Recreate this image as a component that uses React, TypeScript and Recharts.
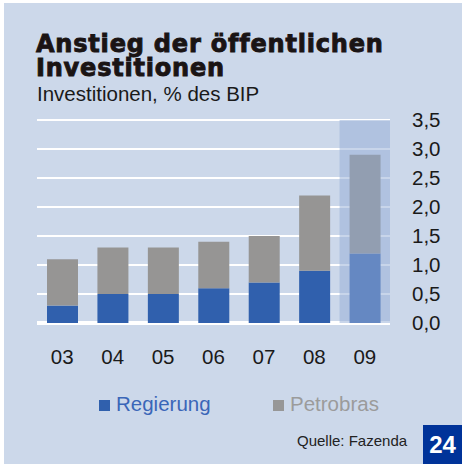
import React from "react";
import {
  Bar,
  BarChart,
  CartesianGrid,
  Cell,
  ReferenceArea,
  ReferenceLine,
  XAxis,
  YAxis,
} from "recharts";

const YEARS = ["03", "04", "05", "06", "07", "08", "09"];
const REGIERUNG = [0.3, 0.5, 0.5, 0.6, 0.7, 0.9, 1.2];
const PETROBRAS = [0.8, 0.8, 0.8, 0.8, 0.8, 1.3, 1.7];
const Y_TICKS = [0, 0.5, 1, 1.5, 2, 2.5, 3, 3.5];
const FORECAST_YEAR = "09";

const BG = "#CCD8EA";
const BLUE = "#3060AD";
const GRAY = "#969594";
const BLUE_LIGHT = "#6588C2";
const GRAY_LIGHT = "#929EB1";
const FONT = "'Liberation Sans', Arial, sans-serif";

const data = YEARS.map((year, i) => ({
  year,
  regierung: REGIERUNG[i],
  petrobras: PETROBRAS[i],
}));

export default function App() {
  return (
    <div
      style={{
        position: "absolute",
        left: 0,
        top: 0,
        width: 462,
        height: 464,
        background: "#fff",
        fontFamily: FONT,
        overflow: "hidden",
      }}
    >
      <div
        style={{
          position: "absolute",
          left: 4,
          top: 3,
          width: 458,
          height: 461,
          background: BG,
        }}
      />

      {/* Titel */}
      <div
        style={{
          position: "absolute",
          left: 36,
          top: 32,
          fontFamily: "'DejaVu Sans', sans-serif",
          fontWeight: 700,
          fontSize: 24,
          lineHeight: "24px",
          letterSpacing: 0.8,
          color: "#1a1414",
          WebkitTextStroke: "0.9px #1a1414",
          whiteSpace: "nowrap",
        }}
      >
        <div>Anstieg der öffentlichen</div>
        <div>Investitionen</div>
      </div>
      <div
        style={{
          position: "absolute",
          left: 37,
          top: 82,
          fontSize: 20.5,
          lineHeight: "24px",
          color: "#1a1a1a",
          whiteSpace: "nowrap",
        }}
      >
        Investitionen, % des BIP
      </div>

      <div style={{ position: "absolute", left: 0, top: 0 }}>
        <BarChart
          width={462}
          height={464}
          data={data}
          margin={{ top: 120, right: 12, bottom: 101, left: 37 }}
          barSize={31}
        >
          <CartesianGrid
            vertical={false}
            stroke="#fff"
            strokeWidth={2}
            horizontalValues={Y_TICKS}
          />
          <ReferenceLine y={0} stroke="#fff" strokeWidth={4} zIndex={-90} />
          <ReferenceArea
            x1={FORECAST_YEAR}
            x2={FORECAST_YEAR}
            y1={0}
            y2={3.5}
            fill="#96AFD7"
            fillOpacity={0.52}
            stroke="none"
            zIndex={-80}
          />
          <XAxis
            dataKey="year"
            axisLine={false}
            tickLine={false}
            tickSize={0}
            tickMargin={26}
            height={40}
            interval={0}
            tick={{ fontSize: 20.5, fill: "#1a1a1a", fontFamily: FONT }}
          />
          <YAxis
            orientation="right"
            domain={[0, 3.5]}
            ticks={Y_TICKS}
            interval={0}
            axisLine={false}
            tickLine={false}
            tickSize={0}
            tickMargin={22}
            width={60}
            tickFormatter={(v: number) => v.toFixed(1).replace(".", ",")}
            tick={{ fontSize: 20.5, fill: "#1a1a1a", fontFamily: FONT, textAnchor: "start" }}
          />
          <Bar dataKey="regierung" stackId="a" isAnimationActive={false}>
            {data.map((d) => (
              <Cell key={d.year} fill={d.year === FORECAST_YEAR ? BLUE_LIGHT : BLUE} />
            ))}
          </Bar>
          <Bar dataKey="petrobras" stackId="a" isAnimationActive={false}>
            {data.map((d) => (
              <Cell key={d.year} fill={d.year === FORECAST_YEAR ? GRAY_LIGHT : GRAY} />
            ))}
          </Bar>
        </BarChart>
      </div>

      {/* Legende */}
      <LegendItem left={99} color={BLUE} textColor="#3A66B8" label="Regierung" />
      <LegendItem left={273} color="#979797" textColor="#9B9B9B" label="Petrobras" />

      <div
        style={{
          position: "absolute",
          left: 297,
          top: 432,
          fontSize: 15,
          lineHeight: "18px",
          color: "#222",
          whiteSpace: "nowrap",
        }}
      >
        Quelle: Fazenda
      </div>
      <div
        style={{
          position: "absolute",
          left: 423,
          top: 425,
          width: 39,
          height: 39,
          background: "#003399",
          color: "#fff",
          fontWeight: 700,
          fontSize: 24,
          lineHeight: "39px",
          textAlign: "center",
        }}
      >
        24
      </div>
    </div>
  );
}

function LegendItem({
  left,
  color,
  textColor,
  label,
}: {
  left: number;
  color: string;
  textColor: string;
  label: string;
}) {
  return (
    <div
      style={{
        position: "absolute",
        left,
        top: 392,
        display: "flex",
        alignItems: "center",
        whiteSpace: "nowrap",
      }}
    >
      <span style={{ width: 11, height: 11, background: color, marginRight: 6, marginTop: 3 }} />
      <span style={{ fontSize: 20.5, lineHeight: "24px", color: textColor }}>{label}</span>
    </div>
  );
}
